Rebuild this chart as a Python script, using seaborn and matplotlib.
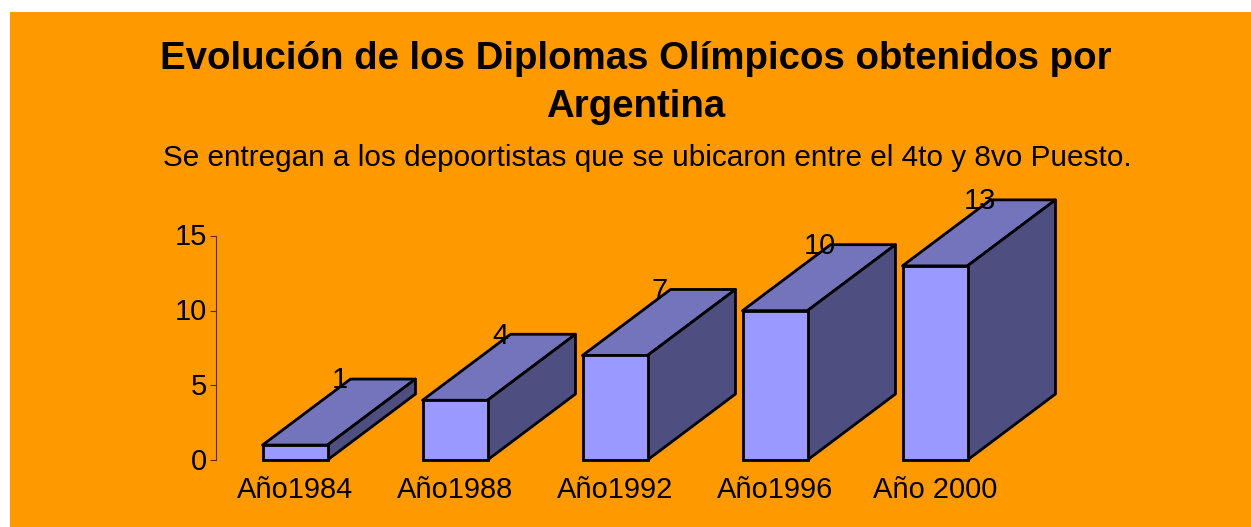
import matplotlib
matplotlib.use("Agg")
import matplotlib.pyplot as plt
from matplotlib.patches import Rectangle, Polygon
from matplotlib.transforms import ScaledTranslation
import pandas as pd
import seaborn as sns

categories = ["Año1984", "Año1988", "Año1992", "Año1996", "Año 2000"]
values = [1, 4, 7, 10, 13]
y_ticks = [0, 5, 10, 15]
title = "Evolución de los Diplomas Olímpicos obtenidos por\nArgentina"
subtitle = "Se entregan a los depoortistas que se ubicaron entre el 4to y 8vo Puesto."

FRONT = "#9999FF"
TOP = "#7474BC"
SIDE = "#4E4E80"
ORANGE = "#FF9900"
W, H = 1251, 527

sns.set_theme(style="white")
plt.rcParams["font.family"] = ["Liberation Sans", "DejaVu Sans"]

fig = plt.figure(figsize=(W / 100, H / 100), dpi=100, facecolor="white")
fig.add_artist(Rectangle((10 / W, 0), (W - 10) / W, (H - 12) / H,
                         transform=fig.transFigure, facecolor=ORANGE, edgecolor="none", zorder=-10))

ax = fig.add_axes([216 / W, (H - 460) / H, 800 / W, 224 / H])
ax.patch.set_alpha(0)

df = pd.DataFrame({"cat": categories, "val": values})
sns.barplot(data=df, x="cat", y="val", ax=ax, color=FRONT, saturation=1, width=65 / 160,
            edgecolor="black", linewidth=2, zorder=3)
for p in ax.patches:
    p.set_clip_on(False)

ax.set_xlim(-0.5 + 1 / 160, 4.5 + 1 / 160)
ax.set_ylim(0, 15)
depth_x = 88 / 160
depth_y = 66 / (224 / 15)
half = 65 / 160 / 2
for i, v in enumerate(values):
    l, r = i - half, i + half
    ax.add_patch(Polygon([(l, v), (r, v), (r + depth_x, v + depth_y), (l + depth_x, v + depth_y)],
                         closed=True, facecolor=TOP, edgecolor="black", linewidth=2,
                         joinstyle="round", clip_on=False, zorder=2))
    ax.add_patch(Polygon([(r, 0), (r + depth_x, depth_y), (r + depth_x, v + depth_y), (r, v)],
                         closed=True, facecolor=SIDE, edgecolor="black", linewidth=2,
                         joinstyle="round", clip_on=False, zorder=2))
    ax.text(i + depth_x / 2 + 1 / 160, v + depth_y - 0.09, str(v), ha="center", va="center",
            fontsize=21, color="black", zorder=5, clip_on=False)

ax.set_xlabel("")
ax.set_ylabel("")
ax.set_yticks(y_ticks)
ax.tick_params(axis="y", left=True, length=4, width=0.8, color="#4D3300", pad=2.5,
               labelsize=21, labelcolor="black")
ax.tick_params(axis="x", bottom=False, pad=5.5, labelsize=20.9, labelcolor="black")
up = ScaledTranslation(0, 1.5 / 100, fig.dpi_scale_trans)
for lab in ax.get_yticklabels():
    lab.set_transform(lab.get_transform() + up)
sns.despine(ax=ax, top=True, right=True, bottom=True, left=False)
ax.spines["left"].set_color("#4D3300")
ax.spines["left"].set_linewidth(0.8)

fig.text(636 / W, 1 - 83 / H, title, ha="center", va="center", fontsize=27.6,
         fontweight="bold", color="black", linespacing=1.45)
fig.text(647.5 / W, 1 - 157.5 / H, subtitle, ha="center", va="center", fontsize=21.4,
         color="black")

fig.savefig("out.png", dpi=100, facecolor="white")
